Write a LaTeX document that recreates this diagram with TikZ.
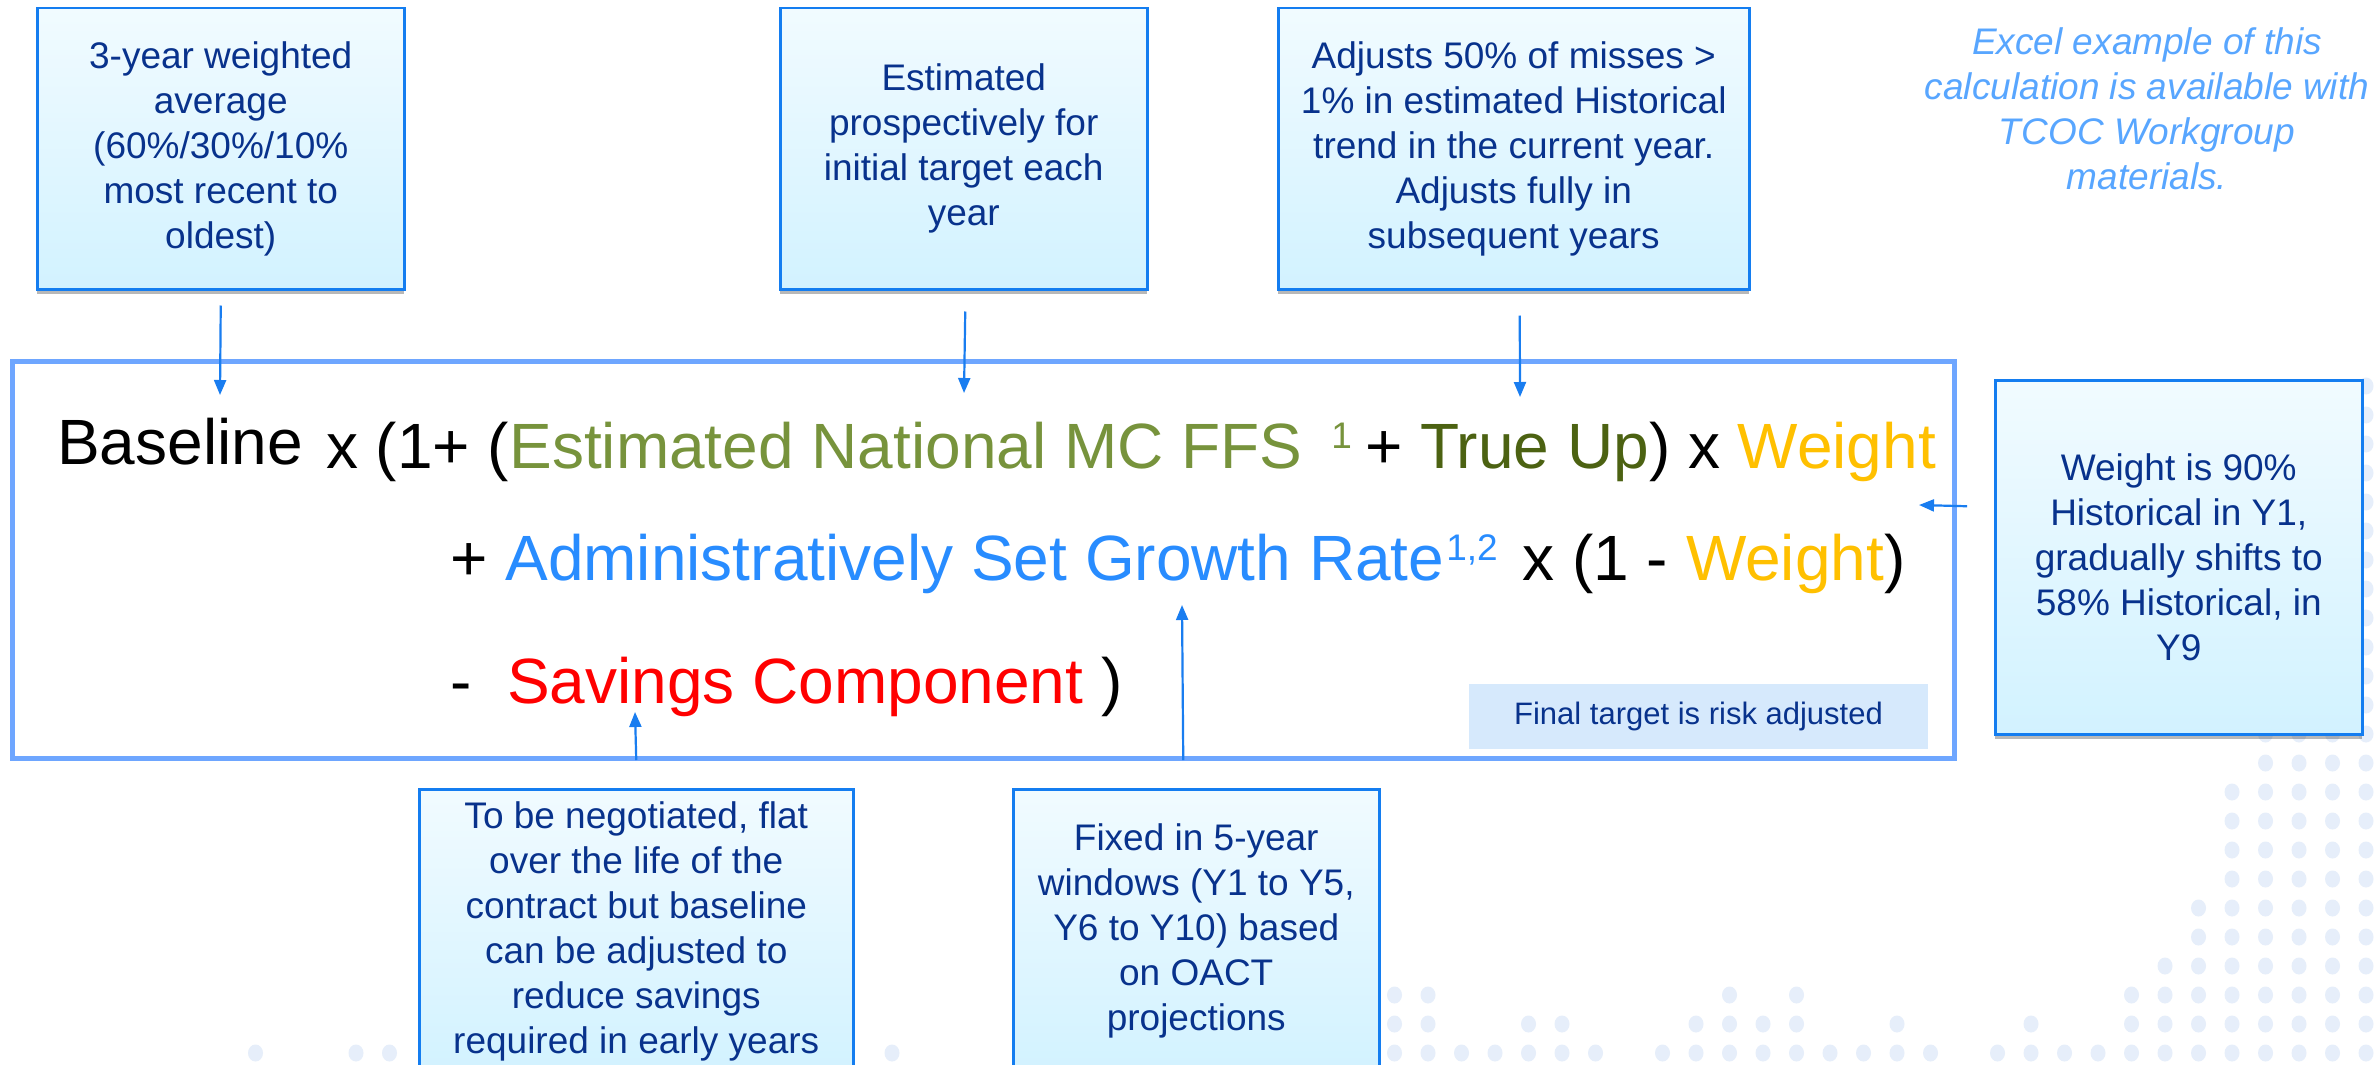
\documentclass[tikz,border=0pt]{standalone}
\usepackage{fontspec}
\setmainfont{Liberation Sans}
\usetikzlibrary{arrows.meta,shadows}
\definecolor{navy}{RGB}{8,50,140}
\definecolor{boxblue}{RGB}{20,125,240}
\definecolor{boxtop}{RGB}{241,251,255}
\definecolor{boxbot}{RGB}{210,242,255}
\definecolor{mainblue}{RGB}{110,166,255}
\definecolor{arrblue}{RGB}{25,125,240}
\definecolor{olivegreen}{RGB}{119,147,60}
\definecolor{darkolive}{RGB}{76,98,18}
\definecolor{goldc}{RGB}{255,192,0}
\definecolor{growblue}{RGB}{40,140,255}
\definecolor{exblue}{RGB}{88,166,255}
\definecolor{finfill}{RGB}{214,233,252}
\definecolor{dotc}{RGB}{230,238,250}
\newcommand\notefont{\fontsize{37}{45}\selectfont}
\newcommand\fmfont{\fontsize{64}{70}\selectfont}
\newcommand\supx[1]{\raisebox{20pt}{\fontsize{37}{37}\selectfont #1}}
\begin{document}
\begin{tikzpicture}[x=1pt,y=-1pt,
  note/.style={draw=boxblue, line width=2.5pt, top color=boxtop, bottom color=boxbot,
    drop shadow={shadow xshift=0pt, shadow yshift=-5pt, fill=black, opacity=0.28},
    text=navy, align=center, inner sep=0pt, anchor=north west, font=\notefont},
  mainbox/.style={draw=mainblue, line width=5pt, inner sep=0pt, anchor=north west},
  fm/.style={font=\fmfont, anchor=base west, inner sep=0pt},
  arr/.style={draw=arrblue, line width=2.2pt, -{Triangle[length=15pt,width=12pt]}},
  dot/.style={fill=dotc}]
\clip (0,0) rectangle (2379,1065);
\fill[white] (0,0) rectangle (2379,1065);
% background dots
\foreach \j/\ks in {
  0/{0,1,2,3,4,5,6,7,8,9,10,11,13,14,15,16,17,18,19,20,21,23,24,25,26,27,28,29,44,59,60,63},
  1/{0,1,2,3,4,5,6,7,10,14,17,18,19,20,24,25,28,29},
  2/{0,1,2,3,4,5,6,7,17,19,28,29},
  3/{0,1,2,3,4,5,6},
  4/{0,1,2,3,4,5},
  5/{0,1,2,3,4,5},
  6/{0,1,2,3,4},
  7/{0,1,2,3,4},
  8/{0,1,2,3,4},
  9/{0,1,2,3,4},
  10/{0,1,2,3},
  11/{0,1,2,3},
  12/{0},13/{0},14/{0},15/{0},16/{0},17/{0},18/{0},19/{0},20/{0},21/{0},22/{0},23/{0}}
  {\foreach \k in \ks {\fill[dot] ({2366-33.5*\k},{1053-29*\j}) ellipse [x radius=7.5, y radius=8.5];}}
% main formula box
\node[mainbox, minimum width=1942pt, minimum height=397pt] (main) at (10,359) {};
\node[fm] (f1a) at (57,464) {Baseline};
\node[fm] (f1b) at (326,468) {x (1+ (\textcolor{olivegreen}{Estimated National MC FFS\hspace{29pt}\supx{1}}\hspace{13pt}+ \textcolor{darkolive}{True Up}) x \textcolor{goldc}{Weight}};
\node[fm] (f2) at (450,580) {+ \textcolor{growblue}{Administratively Set Growth Rate\hspace{2pt}\supx{1,2}}\hspace{7pt} x (1 - \textcolor{goldc}{Weight})};
\node[fm] (f3) at (450,703) {-\ \ \textcolor{red}{Savings Component} )};
\node[fill=finfill, text=navy, font=\fontsize{31}{37}\selectfont, inner sep=0pt,
  minimum width=459pt, minimum height=65pt] (fin) at (1698.5,716.5) {Final target is risk adjusted};
% excel note
\node[text=exblue, font=\fontsize{37}{45}\selectfont\itshape, align=center, inner sep=0pt] (excel) at (2147,109)
  {Excel example of this\\calculation is available with\\TCOC Workgroup\\materials.};
% callout boxes
\node[note, minimum width=367pt, minimum height=281pt] (b1) at (36,7)
  {3-year weighted\\average\\(60\%/30\%/10\%\\most recent to\\oldest)};
\node[note, minimum width=367pt, minimum height=281pt] (b2) at (779,7)
  {Estimated\\prospectively for\\initial target each\\year};
\node[note, minimum width=471pt, minimum height=281pt] (b3) at (1277,7)
  {Adjusts 50\% of misses >\\1\% in estimated Historical\\trend in the current year.\\Adjusts fully in\\subsequent years};
\node[note, minimum width=367pt, minimum height=354pt] (bw) at (1994,379)
  {Weight is 90\%\\Historical in Y1,\\gradually shifts to\\58\% Historical, in\\Y9};
\node[note, minimum width=434pt, minimum height=284pt] (bs) at (418,788)
  {To be negotiated, flat\\over the life of the\\contract but baseline\\can be adjusted to\\reduce savings\\required in early years};
\node[note, minimum width=366pt, minimum height=284pt] (bg) at (1012,788)
  {Fixed in 5-year\\windows (Y1 to Y5,\\Y6 to Y10) based\\on OACT\\projections};
% arrows
\coordinate (t1) at (220,395);
\coordinate (t2) at (964,393);
\coordinate (t3) at (1520,397);
\coordinate (ts) at (635,712);
\coordinate (tg) at (1182,605);
\coordinate (tw) at (1919,505);
\draw[arr] ([yshift=-15pt]b1.south) -- (t1);
\draw[arr] ([xshift=1.5pt,yshift=-21pt]b2.south) -- (t2);
\draw[arr] ([xshift=6pt,yshift=-25pt]b3.south) -- (t3);
\draw[arr] ([yshift=28pt]bs.north) -- (ts);
\draw[arr] ([xshift=-13pt,yshift=28pt]bg.north) -- (tg);
\draw[arr] ([xshift=-27pt,yshift=51pt]bw.west) -- (tw);
\end{tikzpicture}
\end{document}
